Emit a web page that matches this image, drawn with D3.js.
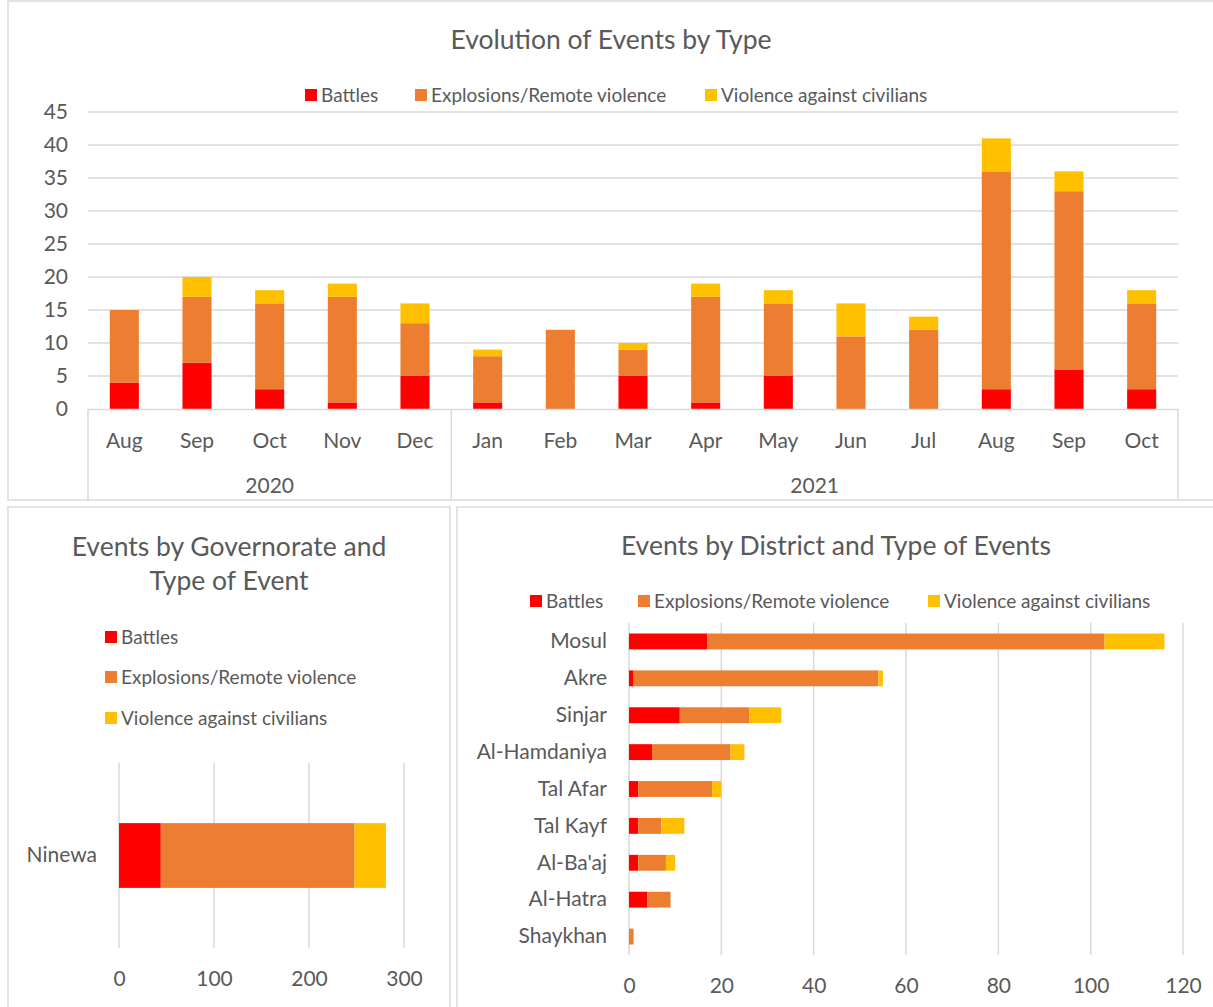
<!DOCTYPE html>
<html>
<head>
<meta charset="utf-8">
<script src="https://cdn.jsdelivr.net/npm/d3@7"></script>
<style>
  body { margin: 0; background: #fff; }
  text { font-family: Lato, "Open Sans", sans-serif; fill: #595959; }
</style>
</head>
<body>
<div id="chart"></div>
<script>
// ---- data ----
var eventTypes = ["Battles", "Explosions/Remote violence", "Violence against civilians"];
var typeColors = ["#ff0000", "#ed7d31", "#ffc000"];

// monthly events, Aug 2020 - Oct 2021
var months = ["Aug", "Sep", "Oct", "Nov", "Dec", "Jan", "Feb", "Mar", "Apr", "May", "Jun", "Jul", "Aug", "Sep", "Oct"];
var monthYears = ["2020", "2020", "2020", "2020", "2020", "2021", "2021", "2021", "2021", "2021", "2021", "2021", "2021", "2021", "2021"];
var monthBattles = [4, 7, 3, 1, 5, 1, 0, 5, 1, 5, 0, 0, 3, 6, 3];
var monthExplosions = [11, 10, 13, 16, 8, 7, 12, 4, 16, 11, 11, 12, 33, 27, 13];
var monthCivilians = [0, 3, 2, 2, 3, 1, 0, 1, 2, 2, 5, 2, 5, 3, 2];
var monthTicks = [0, 5, 10, 15, 20, 25, 30, 35, 40, 45];

// governorate totals
var governorates = ["Ninewa"];
var govBattles = [44];
var govExplosions = [204];
var govCivilians = [33];
var govTicks = [0, 100, 200, 300];

// districts
var districts = ["Mosul", "Akre", "Sinjar", "Al-Hamdaniya", "Tal Afar", "Tal Kayf", "Al-Ba'aj", "Al-Hatra", "Shaykhan"];
var distBattles = [17, 1, 11, 5, 2, 2, 2, 4, 0];
var distExplosions = [86, 53, 15, 17, 16, 5, 6, 5, 1];
var distCivilians = [13, 1, 7, 3, 2, 5, 2, 0, 0];
var distTicks = [0, 20, 40, 60, 80, 100, 120];

var W = 1213, H = 1007;
var gridColor = "#d9d9d9";
var axisFont = "21px", legendFont = "19px", titleFont = "26.5px";

var svg = d3.select("#chart").append("svg")
    .attr("width", W)
    .attr("height", H);

// panel frames
var panels = [[8, 1, 1220, 499], [8, 507, 442, 520], [457, 507, 780, 520]];
svg.selectAll(".panel").data(panels).enter().append("rect")
    .attr("class", "panel")
    .attr("x", function(d) { return d[0]; })
    .attr("y", function(d) { return d[1]; })
    .attr("width", function(d) { return d[2]; })
    .attr("height", function(d) { return d[3]; })
    .attr("fill", "#fff")
    .attr("stroke", "#e3e3e3")
    .attr("stroke-width", 2);

function rows(cats, a, b, c) {
  return cats.map(function(k, i) { return {key: i, cat: k, v0: a[i], v1: b[i], v2: c[i]}; });
}
var stack = d3.stack().keys(["v0", "v1", "v2"]);

// legend helper
function legend(g, items) {
  var it = g.selectAll(".lg").data(items).enter().append("g")
      .attr("transform", function(d) { return "translate(" + d.x + "," + d.y + ")"; });
  it.append("rect")
      .attr("x", 0).attr("y", -6)
      .attr("width", 12).attr("height", 12)
      .attr("fill", function(d) { return d.color; });
  it.append("text")
      .attr("x", 16).attr("dy", "0.35em")
      .style("font-size", legendFont)
      .text(function(d) { return d.label; });
}

function styleTicks(sel) {
  sel.selectAll("text").style("font-size", axisFont).attr("fill", "#595959");
}

// ================= top chart =================
var topG = svg.append("g");
var monthData = rows(months, monthBattles, monthExplosions, monthCivilians);

var x = d3.scaleBand()
    .domain(d3.range(months.length))
    .range([88, 1178])
    .paddingInner(0.6)
    .paddingOuter(0.3);
var y = d3.scaleLinear().domain([0, 45]).range([409, 112]);

topG.append("text")
    .attr("x", 611).attr("y", 40).attr("dy", "0.35em")
    .style("text-anchor", "middle")
    .style("font-size", titleFont)
    .text("Evolution of Events by Type");

legend(topG, [
  {x: 305, y: 95, color: typeColors[0], label: eventTypes[0]},
  {x: 415, y: 95, color: typeColors[1], label: eventTypes[1]},
  {x: 705, y: 95, color: typeColors[2], label: eventTypes[2]}
]);

topG.selectAll(".grid").data(monthTicks.slice(1)).enter().append("line")
    .attr("x1", 88).attr("x2", 1178)
    .attr("y1", function(d) { return y(d); })
    .attr("y2", function(d) { return y(d); })
    .attr("stroke", gridColor).attr("stroke-width", 1.5);

var yAxis = d3.axisLeft(y).tickValues(monthTicks).tickSize(0).tickPadding(20);
topG.append("g")
    .attr("transform", "translate(88,0)")
    .call(yAxis)
    .call(function(g) { g.select(".domain").remove(); })
    .call(styleTicks);

topG.selectAll(".layer").data(stack(monthData)).enter().append("g")
    .attr("fill", function(d, i) { return typeColors[i]; })
  .selectAll("rect").data(function(d) { return d; }).enter().append("rect")
    .attr("x", function(d) { return x(d.data.key); })
    .attr("width", x.bandwidth())
    .attr("y", function(d) { return y(d[1]); })
    .attr("height", function(d) { return y(d[0]) - y(d[1]); });

// category axis with two levels
var xAxis = d3.axisBottom(x).tickFormat(function(i) { return months[i]; }).tickSize(0).tickPadding(24);
topG.append("g")
    .attr("transform", "translate(0,409)")
    .call(xAxis)
    .call(function(g) { g.select(".domain").attr("stroke", gridColor).attr("stroke-width", 1.5); })
    .call(styleTicks);

var yearGroups = d3.groups(d3.range(months.length), function(i) { return monthYears[i]; });
var bounds = [88];
yearGroups.forEach(function(gr) {
  var last = gr[1][gr[1].length - 1];
  bounds.push(x(last) + x.bandwidth() + x.step() * x.paddingInner() / 2);
});
bounds[bounds.length - 1] = 1178;
topG.selectAll(".sep").data(bounds).enter().append("line")
    .attr("x1", function(d) { return d; }).attr("x2", function(d) { return d; })
    .attr("y1", 409).attr("y2", 500)
    .attr("stroke", gridColor).attr("stroke-width", 1.5);
topG.selectAll(".year").data(yearGroups).enter().append("text")
    .attr("x", function(d, i) { return (bounds[i] + bounds[i + 1]) / 2; })
    .attr("y", 486).attr("dy", "0.35em")
    .style("text-anchor", "middle")
    .style("font-size", axisFont)
    .text(function(d) { return d[0]; });

// horizontal stacked bar helper
function hbars(g, data, xs, ys) {
  g.selectAll(".layer").data(stack(data)).enter().append("g")
      .attr("fill", function(d, i) { return typeColors[i]; })
    .selectAll("rect").data(function(d) { return d; }).enter().append("rect")
      .attr("y", function(d) { return ys(d.data.cat); })
      .attr("height", ys.bandwidth())
      .attr("x", function(d) { return xs(d[0]); })
      .attr("width", function(d) { return xs(d[1]) - xs(d[0]); });
}

// ================= governorate =================
var gov = svg.append("g");
var govData = rows(governorates, govBattles, govExplosions, govCivilians);
var gx = d3.scaleLinear().domain([0, 300]).range([119, 404]);
var gy = d3.scaleBand().domain(governorates).range([763, 948]).paddingInner(0.65).paddingOuter(0.325);

gov.append("text")
    .attr("x", 229).attr("y", 547).attr("dy", "0.35em")
    .style("text-anchor", "middle").style("font-size", titleFont)
    .text("Events by Governorate and");
gov.append("text")
    .attr("x", 229).attr("y", 581).attr("dy", "0.35em")
    .style("text-anchor", "middle").style("font-size", titleFont)
    .text("Type of Event");

legend(gov, eventTypes.map(function(t, i) {
  return {x: 105, y: [637, 677, 718][i], color: typeColors[i], label: t};
}));

gov.selectAll(".grid").data(govTicks).enter().append("line")
    .attr("x1", function(d) { return gx(d); }).attr("x2", function(d) { return gx(d); })
    .attr("y1", 763).attr("y2", 948)
    .attr("stroke", gridColor).attr("stroke-width", 1.5);

hbars(gov, govData, gx, gy);

gov.append("g")
    .attr("transform", "translate(0,948)")
    .call(d3.axisBottom(gx).tickValues(govTicks).tickSize(0).tickPadding(23))
    .call(function(g) { g.select(".domain").remove(); })
    .call(styleTicks);
gov.append("g")
    .attr("transform", "translate(119,0)")
    .call(d3.axisLeft(gy).tickSize(0).tickPadding(22))
    .call(function(g) { g.select(".domain").remove(); })
    .call(styleTicks);

// ================= districts =================
var dist = svg.append("g");
var distData = rows(districts, distBattles, distExplosions, distCivilians);
var dx = d3.scaleLinear().domain([0, 120]).range([629, 1183]);
var dy = d3.scaleBand().domain(districts).range([623, 955]).paddingInner(0.57).paddingOuter(0.285);

dist.append("text")
    .attr("x", 836).attr("y", 546).attr("dy", "0.35em")
    .style("text-anchor", "middle").style("font-size", titleFont)
    .text("Events by District and Type of Events");

legend(dist, [
  {x: 530, y: 601, color: typeColors[0], label: eventTypes[0]},
  {x: 638, y: 601, color: typeColors[1], label: eventTypes[1]},
  {x: 928, y: 601, color: typeColors[2], label: eventTypes[2]}
]);

dist.selectAll(".grid").data(distTicks).enter().append("line")
    .attr("x1", function(d) { return dx(d); }).attr("x2", function(d) { return dx(d); })
    .attr("y1", 623).attr("y2", 955)
    .attr("stroke", gridColor).attr("stroke-width", 1.5);

hbars(dist, distData, dx, dy);

dist.append("g")
    .attr("transform", "translate(0,955)")
    .call(d3.axisBottom(dx).tickValues(distTicks).tickSize(0).tickPadding(23))
    .call(function(g) { g.select(".domain").remove(); })
    .call(styleTicks);
dist.append("g")
    .attr("transform", "translate(629,0)")
    .call(d3.axisLeft(dy).tickSize(0).tickPadding(22))
    .call(function(g) { g.select(".domain").remove(); })
    .call(styleTicks);
</script>
</body>
</html>
